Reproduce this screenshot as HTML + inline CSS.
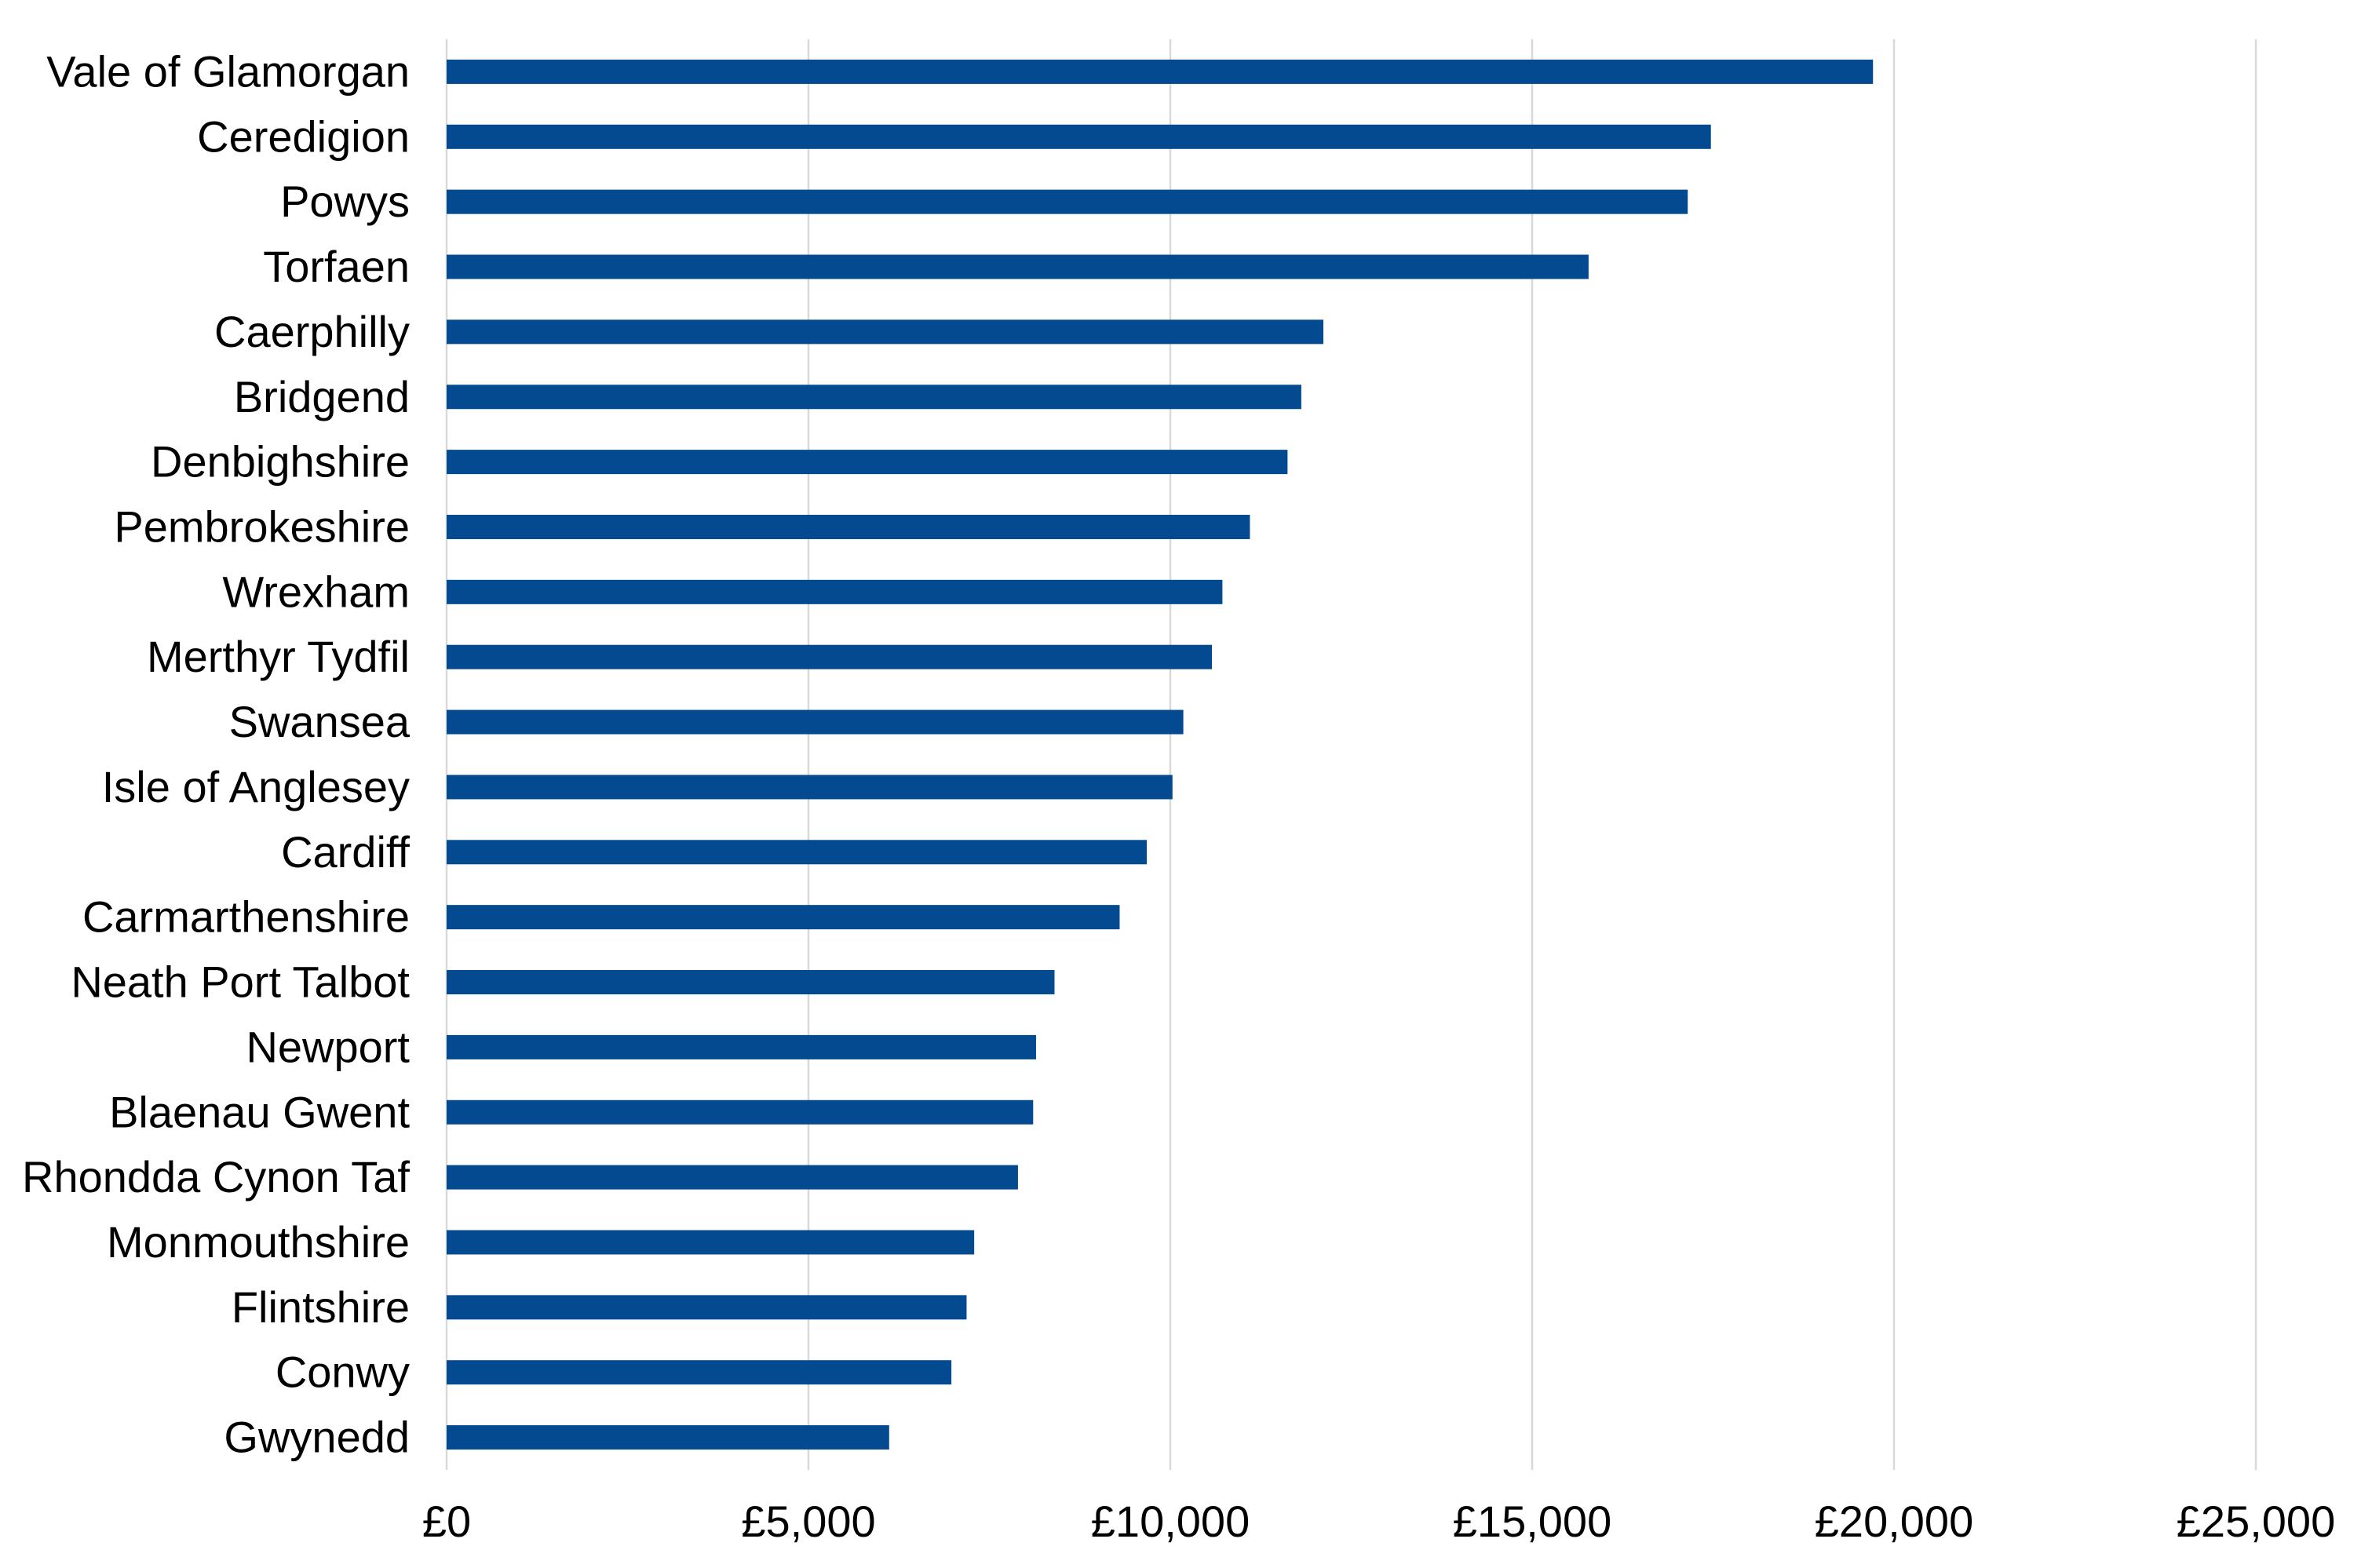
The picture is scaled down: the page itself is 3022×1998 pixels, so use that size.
<!DOCTYPE html>
<html><head><meta charset="utf-8"><style>
html,body{margin:0;padding:0;background:#fff;}
svg{display:block;}
text{font-family:"Liberation Sans",Arial,sans-serif;fill:#000;}
</style></head><body>
<svg id="chart" width="3022" height="1998" viewBox="0 0 3022 1998" xmlns="http://www.w3.org/2000/svg">
<g id="grid"></g>
<g id="bars"></g>
<g id="ylabels"></g>
<g id="xlabels"></g>
</svg>
<script>
const categories = ["Vale of Glamorgan","Ceredigion","Powys","Torfaen","Caerphilly","Bridgend","Denbighshire","Pembrokeshire","Wrexham","Merthyr Tydfil","Swansea","Isle of Anglesey","Cardiff","Carmarthenshire","Neath Port Talbot","Newport","Blaenau Gwent","Rhondda Cynon Taf","Monmouthshire","Flintshire","Conwy","Gwynedd"];
const values = [19710,17470,17150,15780,12115,11810,11620,11100,10720,10575,10180,10030,9675,9300,8400,8145,8105,7895,7290,7185,6975,6115];
const tickValues = [0,5000,10000,15000,20000,25000];
const tickLabels = ["£0","£5,000","£10,000","£15,000","£20,000","£25,000"];

const NS = "http://www.w3.org/2000/svg";
const x0 = 569, pxPer = 461/5000;
const plotTop = 50, plotBottom = 1873;
const band = (plotBottom - plotTop) / categories.length;
const barH = 31;
function xScale(v){ return x0 + v * pxPer; }
function yScale(i){ return plotTop + (i + 0.5) * band; }

const grid = document.getElementById('grid');
tickValues.forEach((t, i) => {
  const l = document.createElementNS(NS, 'line');
  l.setAttribute('x1', xScale(t)); l.setAttribute('x2', xScale(t));
  l.setAttribute('y1', plotTop); l.setAttribute('y2', plotBottom);
  l.setAttribute('stroke', '#d9d9d9'); l.setAttribute('stroke-width', '2.5');
  
  
  grid.appendChild(l);
  const tx = document.createElementNS(NS, 'text');
  tx.setAttribute('x', xScale(t)); tx.setAttribute('y', 1958);
  tx.setAttribute('text-anchor', 'middle'); tx.setAttribute('font-size', '56');
  tx.textContent = tickLabels[i];
  
  
  document.getElementById('xlabels').appendChild(tx);
});

const bars = document.getElementById('bars');
const yl = document.getElementById('ylabels');
categories.forEach((c, i) => {
  const r = document.createElementNS(NS, 'rect');
  r.setAttribute('x', xScale(0)); r.setAttribute('y', yScale(i) - barH/2);
  r.setAttribute('width', xScale(values[i]) - xScale(0)); r.setAttribute('height', barH);
  r.setAttribute('fill', '#044a91');
  
  
  bars.appendChild(r);
  const t = document.createElementNS(NS, 'text');
  t.setAttribute('x', 522); t.setAttribute('y', yScale(i) + 19);
  t.setAttribute('text-anchor', 'end'); t.setAttribute('font-size', '56');
  t.textContent = c;
  
  
  yl.appendChild(t);
});
</script>
</body></html>
